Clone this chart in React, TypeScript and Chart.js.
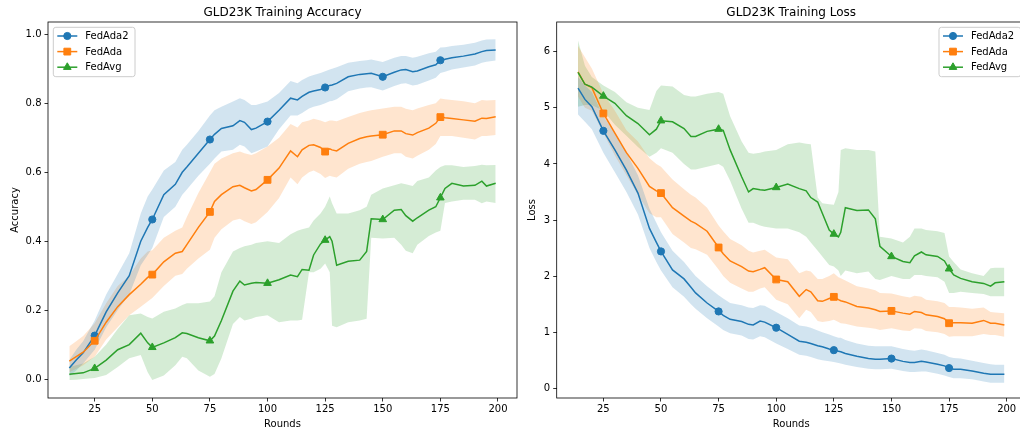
import React, { useEffect, useRef } from 'react';
import { Chart, registerables } from 'chart.js';

Chart.register(...registerables);

// ---------- data ----------
const ROUNDS = [14, 17, 20, 25, 30, 35, 40, 45, 48, 50, 55, 60, 63, 65, 70, 75, 77, 80, 85, 88, 90, 93, 95, 100, 105, 110, 113, 115, 118, 120, 123, 125, 127, 128, 130, 135, 140, 143, 145, 150, 155, 158, 160, 163, 165, 170, 173, 175, 177, 180, 185, 190, 193, 195, 199];

const X_TICKS = [25, 50, 75, 100, 125, 150, 175, 200];
const ACC_TICKS = [0, 0.2, 0.4, 0.6, 0.8, 1.0];
const LOSS_TICKS = [0, 1, 2, 3, 4, 5, 6];
const SERIES_NAMES = ['FedAda2', 'FedAda', 'FedAvg'];

const ACC_FEDADA2 = [0.032, 0.055, 0.076, 0.126, 0.195, 0.25, 0.30, 0.40, 0.44, 0.463, 0.535, 0.565, 0.60, 0.615, 0.655, 0.695, 0.71, 0.727, 0.735, 0.75, 0.745, 0.724, 0.728, 0.747, 0.78, 0.815, 0.81, 0.82, 0.832, 0.836, 0.84, 0.846, 0.852, 0.853, 0.858, 0.877, 0.884, 0.886, 0.887, 0.877, 0.89, 0.897, 0.898, 0.892, 0.894, 0.906, 0.912, 0.925, 0.928, 0.932, 0.937, 0.943, 0.95, 0.953, 0.955];
const ACC_FEDADA2_HI = [0.055, 0.085, 0.11, 0.17, 0.245, 0.305, 0.365, 0.48, 0.53, 0.55, 0.605, 0.63, 0.665, 0.68, 0.72, 0.765, 0.78, 0.79, 0.805, 0.815, 0.81, 0.795, 0.795, 0.805, 0.83, 0.865, 0.858, 0.868, 0.878, 0.882, 0.888, 0.893, 0.898, 0.9, 0.905, 0.918, 0.923, 0.925, 0.927, 0.92, 0.932, 0.937, 0.937, 0.932, 0.935, 0.945, 0.95, 0.962, 0.963, 0.966, 0.97, 0.976, 0.982, 0.985, 0.986];
const ACC_FEDADA2_LO = [0.008, 0.025, 0.045, 0.085, 0.15, 0.2, 0.245, 0.33, 0.36, 0.38, 0.47, 0.50, 0.535, 0.55, 0.59, 0.625, 0.64, 0.66, 0.665, 0.68, 0.675, 0.655, 0.66, 0.675, 0.725, 0.765, 0.765, 0.772, 0.785, 0.79, 0.795, 0.8, 0.806, 0.807, 0.812, 0.835, 0.843, 0.846, 0.847, 0.837, 0.85, 0.857, 0.858, 0.852, 0.854, 0.866, 0.874, 0.888, 0.892, 0.898, 0.904, 0.91, 0.918, 0.921, 0.924];

const ACC_FEDADA = [0.052, 0.065, 0.078, 0.111, 0.165, 0.21, 0.245, 0.275, 0.295, 0.303, 0.34, 0.365, 0.37, 0.39, 0.44, 0.485, 0.515, 0.535, 0.558, 0.562, 0.555, 0.546, 0.55, 0.578, 0.612, 0.662, 0.645, 0.665, 0.678, 0.68, 0.672, 0.66, 0.668, 0.665, 0.662, 0.684, 0.698, 0.703, 0.705, 0.709, 0.72, 0.72, 0.712, 0.708, 0.715, 0.728, 0.742, 0.76, 0.758, 0.756, 0.752, 0.748, 0.757, 0.756, 0.761];
const ACC_FEDADA_HI = [0.095, 0.11, 0.125, 0.162, 0.22, 0.27, 0.30, 0.35, 0.37, 0.374, 0.41, 0.43, 0.44, 0.47, 0.54, 0.60, 0.625, 0.64, 0.655, 0.66, 0.655, 0.65, 0.655, 0.675, 0.70, 0.74, 0.73, 0.745, 0.75, 0.755, 0.75, 0.745, 0.75, 0.75, 0.748, 0.76, 0.772, 0.777, 0.78, 0.785, 0.79, 0.79, 0.784, 0.78, 0.785, 0.795, 0.80, 0.814, 0.812, 0.81, 0.806, 0.80, 0.81, 0.808, 0.81];
const ACC_FEDADA_LO = [0.02, 0.03, 0.04, 0.065, 0.115, 0.15, 0.185, 0.21, 0.225, 0.235, 0.27, 0.30, 0.305, 0.32, 0.35, 0.375, 0.41, 0.435, 0.46, 0.465, 0.458, 0.45, 0.455, 0.485, 0.525, 0.585, 0.565, 0.585, 0.6, 0.605, 0.595, 0.583, 0.59, 0.588, 0.585, 0.61, 0.625, 0.63, 0.633, 0.645, 0.655, 0.655, 0.645, 0.64, 0.648, 0.665, 0.682, 0.705, 0.705, 0.705, 0.7, 0.695, 0.705, 0.705, 0.708];

const ACC_FEDAVG = [0.014, 0.016, 0.018, 0.031, 0.055, 0.085, 0.10, 0.133, 0.105, 0.092, 0.105, 0.12, 0.134, 0.132, 0.12, 0.111, 0.125, 0.17, 0.255, 0.284, 0.273, 0.278, 0.28, 0.278, 0.288, 0.302, 0.297, 0.318, 0.316, 0.36, 0.392, 0.403, 0.413, 0.40, 0.33, 0.342, 0.345, 0.37, 0.465, 0.463, 0.49, 0.492, 0.474, 0.458, 0.468, 0.49, 0.50, 0.526, 0.553, 0.568, 0.56, 0.562, 0.574, 0.56, 0.568];
const ACC_FEDAVG_HI = [0.035, 0.04, 0.045, 0.065, 0.10, 0.145, 0.185, 0.19, 0.18, 0.176, 0.195, 0.205, 0.215, 0.22, 0.22, 0.225, 0.24, 0.31, 0.37, 0.38, 0.385, 0.39, 0.395, 0.40, 0.395, 0.42, 0.43, 0.435, 0.44, 0.46, 0.48, 0.50, 0.53, 0.51, 0.48, 0.48, 0.49, 0.50, 0.535, 0.553, 0.562, 0.568, 0.565, 0.56, 0.575, 0.585, 0.605, 0.615, 0.62, 0.62, 0.615, 0.618, 0.622, 0.62, 0.621];
const ACC_FEDAVG_LO = [-0.003, -0.002, 0.0, 0.003, 0.012, 0.035, 0.06, 0.07, 0.02, -0.003, 0.01, 0.04, 0.065, 0.06, 0.025, 0.007, 0.015, 0.06, 0.16, 0.18, 0.17, 0.175, 0.18, 0.185, 0.165, 0.17, 0.17, 0.172, 0.31, 0.31, 0.32, 0.335, 0.31, 0.155, 0.15, 0.165, 0.17, 0.175, 0.41, 0.408, 0.41, 0.39, 0.372, 0.365, 0.39, 0.415, 0.425, 0.43, 0.511, 0.515, 0.52, 0.52, 0.51, 0.515, 0.511];

const LOSS_FEDADA2 = [5.35, 5.15, 5.02, 4.59, 4.25, 3.89, 3.48, 2.85, 2.6, 2.44, 2.11, 1.95, 1.8, 1.7, 1.52, 1.37, 1.3, 1.23, 1.19, 1.14, 1.13, 1.2, 1.18, 1.08, 0.96, 0.84, 0.82, 0.8, 0.76, 0.74, 0.7, 0.68, 0.66, 0.65, 0.62, 0.57, 0.53, 0.52, 0.52, 0.53, 0.48, 0.46, 0.46, 0.48, 0.47, 0.43, 0.4, 0.36, 0.34, 0.34, 0.31, 0.27, 0.25, 0.25, 0.25];
const LOSS_FEDADA2_HI = [5.55, 5.4, 5.28, 4.85, 4.55, 4.2, 3.8, 3.2, 2.95, 2.78, 2.45, 2.25, 2.1, 2.0, 1.82, 1.66, 1.6, 1.52, 1.48, 1.44, 1.43, 1.48, 1.47, 1.36, 1.25, 1.12, 1.1, 1.08, 1.03, 1.0, 0.96, 0.93, 0.9, 0.9, 0.86, 0.8, 0.76, 0.75, 0.75, 0.75, 0.7, 0.68, 0.67, 0.69, 0.68, 0.63, 0.6, 0.56, 0.54, 0.53, 0.49, 0.45, 0.43, 0.42, 0.42];
const LOSS_FEDADA2_LO = [4.88, 4.75, 4.62, 4.2, 3.85, 3.5, 3.1, 2.5, 2.25, 2.1, 1.8, 1.63, 1.5, 1.42, 1.25, 1.1, 1.04, 0.98, 0.94, 0.88, 0.87, 0.93, 0.91, 0.8, 0.7, 0.6, 0.58, 0.56, 0.52, 0.5, 0.48, 0.47, 0.45, 0.44, 0.42, 0.38, 0.35, 0.34, 0.34, 0.35, 0.31, 0.29, 0.29, 0.3, 0.3, 0.26, 0.23, 0.2, 0.18, 0.18, 0.16, 0.12, 0.1, 0.1, 0.1];

const LOSS_FEDADA = [5.64, 5.42, 5.36, 4.9, 4.55, 4.2, 3.92, 3.6, 3.52, 3.48, 3.22, 3.07, 2.98, 2.94, 2.8, 2.51, 2.4, 2.27, 2.17, 2.09, 2.08, 2.12, 2.15, 1.94, 1.9, 1.64, 1.76, 1.72, 1.56, 1.55, 1.6, 1.63, 1.58, 1.56, 1.54, 1.46, 1.43, 1.4, 1.37, 1.38, 1.34, 1.32, 1.37, 1.35, 1.31, 1.28, 1.24, 1.16, 1.17, 1.17, 1.16, 1.21, 1.16, 1.16, 1.13];
const LOSS_FEDADA_HI = [6.1, 5.9, 5.7, 5.25, 4.95, 4.6, 4.4, 4.1, 4.0, 3.95, 3.72, 3.55, 3.45, 3.4, 3.22, 2.9, 2.8, 2.66, 2.55, 2.45, 2.42, 2.45, 2.47, 2.33, 2.3, 2.05, 2.1, 2.08, 1.95, 1.95, 2.0, 2.05, 1.98, 1.96, 1.92, 1.82, 1.78, 1.75, 1.7, 1.69, 1.64, 1.62, 1.65, 1.63, 1.58, 1.55, 1.52, 1.45, 1.45, 1.44, 1.42, 1.44, 1.36, 1.35, 1.34];
const LOSS_FEDADA_LO = [5.2, 5.0, 4.95, 4.55, 4.15, 3.8, 3.45, 3.12, 3.05, 3.05, 2.75, 2.6, 2.5, 2.48, 2.38, 2.12, 2.0, 1.88, 1.78, 1.72, 1.72, 1.78, 1.8, 1.58, 1.5, 1.25, 1.4, 1.36, 1.2, 1.18, 1.2, 1.22, 1.18, 1.16, 1.15, 1.1, 1.08, 1.06, 1.04, 1.07, 1.03, 1.02, 1.07, 1.06, 1.02, 1.0, 0.97, 0.92, 0.93, 0.93, 0.93, 0.97, 0.95, 0.95, 0.92];

const LOSS_FEDAVG = [5.63, 5.42, 5.37, 5.21, 5.08, 4.86, 4.72, 4.52, 4.62, 4.77, 4.75, 4.63, 4.49, 4.49, 4.58, 4.62, 4.6, 4.25, 3.77, 3.5, 3.56, 3.54, 3.53, 3.58, 3.64, 3.56, 3.52, 3.4, 3.32, 3.12, 2.82, 2.75, 2.7, 2.78, 3.22, 3.17, 3.18, 3.02, 2.53, 2.35, 2.26, 2.24, 2.36, 2.43, 2.38, 2.35, 2.27, 2.13, 2.02, 1.96, 1.9, 1.87, 1.82, 1.88, 1.9];
const LOSS_FEDAVG_HI = [6.2, 5.75, 5.55, 5.4, 5.28, 5.1, 5.0, 4.96, 5.3, 5.4, 5.38, 5.23, 5.2, 5.2, 5.25, 5.28, 5.25, 4.85, 4.4, 4.2, 4.18, 4.2, 4.22, 4.25, 4.35, 4.38, 4.36, 4.35, 3.4, 3.3, 3.28, 3.27, 3.5, 4.25, 4.28, 4.25, 4.25, 4.22, 2.7, 2.67, 2.6, 2.7, 2.85, 2.85, 2.82, 2.8, 2.77, 2.35, 2.25, 2.12, 2.05, 2.0, 2.14, 2.15, 2.15];
const LOSS_FEDAVG_LO = [5.02, 5.05, 5.05, 4.95, 4.7, 4.5, 4.3, 4.13, 4.2, 4.28, 4.2, 4.0, 3.9, 3.9, 3.95, 4.0, 3.95, 3.7, 3.2, 2.95, 2.95, 2.9, 2.88, 2.85, 2.85, 2.78, 2.7, 2.6, 2.45, 2.35, 2.2, 2.17, 2.1, 2.0, 2.1, 2.05, 2.08, 1.95, 1.93, 2.0, 1.95, 1.95, 2.02, 2.02, 2.0, 1.98, 1.9, 1.7, 1.7, 1.72, 1.7, 1.68, 1.64, 1.64, 1.64];

// ---------- styling ----------
const COLORS = ['#1f77b4', '#ff7f0e', '#2ca02c'];
const BAND_COLORS = ['rgba(31,119,180,0.2)', 'rgba(255,127,14,0.2)', 'rgba(44,160,44,0.2)'];
const MARKERS = ['circle', 'rect', 'triangle'];
const MARKER_RADIUS = [3.6, 4.8, 4.4];
const FONT = '"DejaVu Sans", "Liberation Sans", sans-serif';

type SeriesSet = { mean: number[]; hi: number[]; lo: number[] };

const toXY = (vals: number[]) => ROUNDS.map((r, i) => ({ x: r, y: vals[i] }));

function buildDatasets(series: SeriesSet[]) {
  const lines: any[] = [];
  const bands: any[] = [];
  series.forEach((s, i) => {
    lines.push({
      label: SERIES_NAMES[i],
      data: toXY(s.mean),
      borderColor: COLORS[i],
      backgroundColor: COLORS[i],
      borderWidth: 1.5,
      fill: false,
      tension: 0,
      pointStyle: MARKERS[i],
      pointRadius: (ctx: any) => (ROUNDS[ctx.dataIndex] % 25 === 0 ? MARKER_RADIUS[i] : 0),
      pointBorderWidth: 1,
      pointBorderColor: COLORS[i],
      pointBackgroundColor: COLORS[i],
      order: 2 - i,
    });
  });
  series.forEach((s, i) => {
    bands.push({
      label: SERIES_NAMES[i] + ' hi',
      data: toXY(s.hi),
      borderColor: 'rgba(0,0,0,0)',
      borderWidth: 0,
      backgroundColor: BAND_COLORS[i],
      pointRadius: 0,
      fill: '+1',
      tension: 0,
      order: 10,
    });
    bands.push({
      label: SERIES_NAMES[i] + ' lo',
      data: toXY(s.lo),
      borderColor: 'rgba(0,0,0,0)',
      borderWidth: 0,
      backgroundColor: 'rgba(0,0,0,0)',
      pointRadius: 0,
      fill: false,
      tension: 0,
      order: 10,
    });
  });
  return [...lines, ...bands];
}

function drawMarker(ctx: CanvasRenderingContext2D, style: string, x: number, y: number, r: number) {
  ctx.beginPath();
  if (style === 'circle') {
    ctx.arc(x, y, r, 0, Math.PI * 2);
  } else if (style === 'rect') {
    const s = r * Math.SQRT1_2;
    ctx.rect(x - s, y - s, 2 * s, 2 * s);
  } else {
    ctx.moveTo(x, y - r);
    ctx.lineTo(x + r * Math.sin((2 * Math.PI) / 3), y - r * Math.cos((2 * Math.PI) / 3));
    ctx.lineTo(x + r * Math.sin((4 * Math.PI) / 3), y - r * Math.cos((4 * Math.PI) / 3));
    ctx.closePath();
  }
  ctx.fill();
  ctx.stroke();
}

function makeDecorPlugin(title: string, legendSide: 'left' | 'right') {
  return {
    id: 'decor',
    afterDraw(chart: any) {
      const ctx: CanvasRenderingContext2D = chart.ctx;
      const ca = chart.chartArea;
      ctx.save();
      // spines
      ctx.strokeStyle = '#000';
      ctx.lineWidth = 0.8;
      ctx.strokeRect(ca.left, ca.top, ca.right - ca.left, ca.bottom - ca.top);
      // title
      ctx.fillStyle = '#000';
      ctx.font = `12px ${FONT}`;
      ctx.textAlign = 'center';
      ctx.textBaseline = 'alphabetic';
      ctx.fillText(title, (ca.left + ca.right) / 2, ca.top - 6);
      // legend
      ctx.font = `10px ${FONT}`;
      const textW = Math.max(...SERIES_NAMES.map((n) => ctx.measureText(n).width));
      const boxW = 4 + 20 + 8 + textW + 6.5;
      const boxH = 49.4;
      const boxLeft = legendSide === 'left' ? ca.left + 5.3 : ca.right - 5 - boxW;
      const boxTop = ca.top + 5.3;
      const rad = 2.5;
      ctx.beginPath();
      ctx.moveTo(boxLeft + rad, boxTop);
      ctx.arcTo(boxLeft + boxW, boxTop, boxLeft + boxW, boxTop + boxH, rad);
      ctx.arcTo(boxLeft + boxW, boxTop + boxH, boxLeft, boxTop + boxH, rad);
      ctx.arcTo(boxLeft, boxTop + boxH, boxLeft, boxTop, rad);
      ctx.arcTo(boxLeft, boxTop, boxLeft + boxW, boxTop, rad);
      ctx.closePath();
      ctx.fillStyle = 'rgba(255,255,255,0.8)';
      ctx.fill();
      ctx.strokeStyle = '#cccccc';
      ctx.lineWidth = 1;
      ctx.stroke();
      SERIES_NAMES.forEach((name, i) => {
        const y = boxTop + 8.7 + i * 15.6;
        const hx0 = boxLeft + 4;
        const hx1 = hx0 + 20;
        ctx.strokeStyle = COLORS[i];
        ctx.fillStyle = COLORS[i];
        ctx.lineWidth = 1.5;
        ctx.beginPath();
        ctx.moveTo(hx0, y);
        ctx.lineTo(hx1, y);
        ctx.stroke();
        ctx.lineWidth = 1;
        drawMarker(ctx, MARKERS[i], (hx0 + hx1) / 2, y, MARKER_RADIUS[i]);
        ctx.fillStyle = '#000';
        ctx.textAlign = 'left';
        ctx.textBaseline = 'middle';
        ctx.fillText(name, hx1 + 8, y + 0.5);
      });
      ctx.restore();
    },
  };
}

function makeConfig(opts: {
  series: SeriesSet[];
  yMin: number;
  yMax: number;
  yTicks: number[];
  yFmt: (v: number) => string;
  yTitle: string;
  yTitlePad: number;
  yAxisWidth: number;
  padRight: number;
  title: string;
  legendSide: 'left' | 'right';
}) {
  return {
    type: 'line' as const,
    data: { datasets: buildDatasets(opts.series) },
    options: {
      responsive: false,
      animation: false,
      devicePixelRatio: 1,
      layout: { padding: { top: 22, right: opts.padRight, left: 0, bottom: 0 } },
      plugins: {
        legend: { display: false },
        tooltip: { enabled: false },
        title: { display: false },
        filler: { drawTime: 'beforeDatasetsDraw' },
      },
      scales: {
        x: {
          type: 'linear',
          min: 4.75,
          max: 208.25,
          afterBuildTicks: (scale: any) => {
            scale.ticks = X_TICKS.map((v) => ({ value: v }));
          },
          afterFit: (scale: any) => {
            scale.height = 36;
          },
          ticks: {
            color: '#000',
            font: { family: FONT, size: 10 },
            padding: 2,
            maxRotation: 0,
            autoSkip: false,
            callback: (v: any) => String(v),
          },
          grid: {
            display: true,
            drawOnChartArea: false,
            drawTicks: true,
            tickLength: 3.5,
            tickWidth: 0.8,
            tickColor: '#000',
          },
          border: { display: false },
          title: {
            display: true,
            text: 'Rounds',
            color: '#000',
            font: { family: FONT, size: 10 },
            padding: { top: 0, bottom: 4 },
          },
        },
        y: {
          type: 'linear',
          min: opts.yMin,
          max: opts.yMax,
          afterBuildTicks: (scale: any) => {
            scale.ticks = opts.yTicks.map((v) => ({ value: v }));
          },
          afterFit: (scale: any) => {
            scale.width = opts.yAxisWidth;
          },
          ticks: {
            color: '#000',
            font: { family: FONT, size: 10 },
            padding: 3,
            autoSkip: false,
            callback: (v: any) => opts.yFmt(Number(v)),
          },
          grid: {
            display: true,
            drawOnChartArea: false,
            drawTicks: true,
            tickLength: 3.5,
            tickWidth: 0.8,
            tickColor: '#000',
          },
          border: { display: false },
          title: {
            display: true,
            text: opts.yTitle,
            color: '#000',
            font: { family: FONT, size: 10 },
            padding: { top: opts.yTitlePad, bottom: 0 },
          },
        },
      },
    },
    plugins: [makeDecorPlugin(opts.title, opts.legendSide)],
  };
}

export default function App() {
  const accRef = useRef<HTMLCanvasElement>(null);
  const lossRef = useRef<HTMLCanvasElement>(null);

  useEffect(() => {
    const accChart = new Chart(
      accRef.current as HTMLCanvasElement,
      makeConfig({
        series: [
          { mean: ACC_FEDADA2, hi: ACC_FEDADA2_HI, lo: ACC_FEDADA2_LO },
          { mean: ACC_FEDADA, hi: ACC_FEDADA_HI, lo: ACC_FEDADA_LO },
          { mean: ACC_FEDAVG, hi: ACC_FEDAVG_HI, lo: ACC_FEDAVG_LO },
        ],
        yMin: -0.055,
        yMax: 1.036,
        yTicks: ACC_TICKS,
        yFmt: (v) => v.toFixed(1),
        yTitle: 'Accuracy',
        yTitlePad: 9,
        yAxisWidth: 48,
        padRight: 3,
        title: 'GLD23K Training Accuracy',
        legendSide: 'left',
      }) as any
    );
    const lossChart = new Chart(
      lossRef.current as HTMLCanvasElement,
      makeConfig({
        series: [
          { mean: LOSS_FEDADA2, hi: LOSS_FEDADA2_HI, lo: LOSS_FEDADA2_LO },
          { mean: LOSS_FEDADA, hi: LOSS_FEDADA_HI, lo: LOSS_FEDADA_LO },
          { mean: LOSS_FEDAVG, hi: LOSS_FEDAVG_HI, lo: LOSS_FEDAVG_LO },
        ],
        yMin: -0.173,
        yMax: 6.53,
        yTicks: LOSS_TICKS,
        yFmt: (v) => String(Math.round(v)),
        yTitle: 'Loss',
        yTitlePad: 6.5,
        yAxisWidth: 36.7,
        padRight: 14.3,
        title: 'GLD23K Training Loss',
        legendSide: 'right',
      }) as any
    );
    return () => {
      accChart.destroy();
      lossChart.destroy();
    };
  }, []);

  return (
    <div
      style={{
        position: 'fixed',
        left: 0,
        top: 0,
        width: 1020,
        height: 434,
        overflow: 'hidden',
        background: '#fff',
      }}
    >
      <canvas
        ref={accRef}
        width={520}
        height={434}
        style={{ position: 'absolute', left: 0, top: 0, width: 520, height: 434 }}
      />
      <canvas
        ref={lossRef}
        width={520}
        height={434}
        style={{ position: 'absolute', left: 520, top: 0, width: 520, height: 434 }}
      />
    </div>
  );
}
